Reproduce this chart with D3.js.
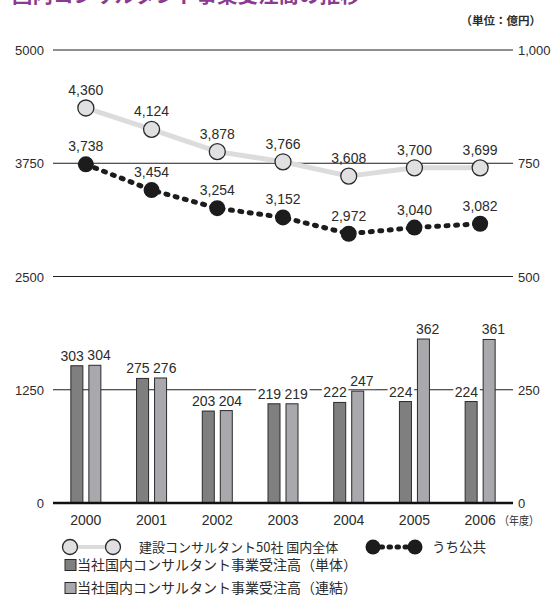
<!DOCTYPE html>
<html>
<head>
<meta charset="utf-8">
<script src="https://cdn.jsdelivr.net/npm/d3@7"></script>
<style>
  html, body { margin: 0; padding: 0; background: #fff; }
  svg { display: block; }
  text { font-family: "Liberation Sans", Arial, "Noto Sans CJK JP", sans-serif; }
  .cjk { font-family: "Noto Sans CJK JP", "Noto Sans CJK SC", sans-serif; }
</style>
</head>
<body>
<script>
// Fiscal years and series (億円)
const years = ["2000", "2001", "2002", "2003", "2004", "2005", "2006"];
const industryTotal = [4360, 4124, 3878, 3766, 3608, 3700, 3699];   // 建設コンサルタント50社 国内全体
const publicPortion = [3738, 3454, 3254, 3152, 2972, 3040, 3082];   // うち公共
const nonConsolidated = [303, 275, 203, 219, 222, 224, 224];        // 当社（単体）
const consolidated = [304, 276, 204, 219, 247, 362, 361];           // 当社（連結）
const leftTicks = [0, 1250, 2500, 3750, 5000];
const rightTicks = [0, 250, 500, 750, 1000];

const titleText = "国内コンサルタント事業受注高の推移";
const unitText = "（単位：億円）";
const yearUnitText = "（年度）";
const legendLabels = [
  "建設コンサルタント50社 国内全体",
  "うち公共",
  "当社国内コンサルタント事業受注高（単体）",
  "当社国内コンサルタント事業受注高（連結）"
];

const W = 558, H = 604;
const plot = { left: 53, right: 513, top: 50, bottom: 503 };
const colors = {
  title: "#8a3b91",
  text: "#2b2b2b",
  grid: "#1e1e1e",
  totalLine: "#dcdcdc",
  totalDot: "#e0e0e2",
  publicDot: "#1c1c1c",
  barDark: "#7f7f80",
  barLight: "#a9a9ad",
  barStroke: "#2a2a2a"
};

const svg = d3.select("body").append("svg").attr("width", W).attr("height", H);

const x = d3.scaleBand().domain(years).range([plot.left, plot.right]).paddingInner(0).paddingOuter(0);
const cx = d => x(d) + x.bandwidth() / 2;
const yL = d3.scaleLinear().domain([0, 5000]).range([plot.bottom, plot.top]);
const yR = d3.scaleLinear().domain([0, 1000]).range([plot.bottom, plot.top]);
const fmt = d3.format(",");

// Title (runs off the top edge) and unit note
svg.append("text").attr("class", "cjk")
  .attr("x", 12).attr("y", 3)
  .attr("font-size", 20.5).attr("font-weight", 700)
  .attr("fill", colors.title).text(titleText);
svg.append("text").attr("class", "cjk")
  .attr("x", 541).attr("y", 25).attr("text-anchor", "end")
  .attr("font-size", 11.5).attr("font-weight", 700)
  .attr("fill", colors.text).text(unitText);

// Horizontal gridlines (the zero line is drawn later as the heavy baseline)
svg.append("g").selectAll("line").data(leftTicks.filter(t => t > 0)).join("line")
  .attr("x1", plot.left).attr("x2", plot.right)
  .attr("y1", d => yL(d)).attr("y2", d => yL(d))
  .attr("stroke", colors.grid).attr("stroke-width", 1);

// Left axis labels
svg.append("g").selectAll("text").data(leftTicks).join("text")
  .attr("x", 44).attr("y", d => yL(d) + 5)
  .attr("text-anchor", "end").attr("font-size", 13)
  .attr("fill", colors.text).text(d => d);

// Right axis labels
svg.append("g").selectAll("text").data(rightTicks).join("text")
  .attr("x", 518).attr("y", d => yR(d) + 5)
  .attr("font-size", 13).attr("fill", colors.text).text(d => fmt(d));

// Bars
const barW = 12, barOff = 3;
const bars = svg.append("g");
years.forEach((yr, i) => {
  bars.append("rect")
    .attr("x", cx(yr) - barOff - barW).attr("y", yR(nonConsolidated[i]))
    .attr("width", barW).attr("height", yR(0) - yR(nonConsolidated[i]))
    .attr("fill", colors.barDark).attr("stroke", colors.barStroke).attr("stroke-width", 1);
  bars.append("rect")
    .attr("x", cx(yr) + barOff).attr("y", yR(consolidated[i]))
    .attr("width", barW).attr("height", yR(0) - yR(consolidated[i]))
    .attr("fill", colors.barLight).attr("stroke", colors.barStroke).attr("stroke-width", 1);
});

// Bar value labels on a white backing so they break the gridline
const barLabels = svg.append("g");
function labelWithBacking(g, px, py, txt, anchor) {
  const bg = g.append("rect").attr("fill", "#fff");
  const t = g.append("text").attr("x", px).attr("y", py)
    .attr("text-anchor", anchor).attr("font-size", 14)
    .attr("fill", colors.text).text(txt);
  const b = t.node().getBBox();
  bg.attr("x", b.x - 1.5).attr("y", b.y).attr("width", b.width + 3).attr("height", b.height);
}
years.forEach((yr, i) => {
  labelWithBacking(barLabels, cx(yr) - barOff + 1, yR(nonConsolidated[i]) - 5, nonConsolidated[i], "end");
  labelWithBacking(barLabels, cx(yr) + barOff - 1.5, yR(consolidated[i]) - 5, consolidated[i], "start");
});

// Heavy baseline
svg.append("line")
  .attr("x1", plot.left).attr("x2", plot.right)
  .attr("y1", yL(0)).attr("y2", yL(0))
  .attr("stroke", "#111").attr("stroke-width", 2.5);

// Year labels
svg.append("g").selectAll("text").data(years).join("text")
  .attr("x", d => cx(d)).attr("y", 525)
  .attr("text-anchor", "middle").attr("font-size", 14)
  .attr("fill", colors.text).text(d => d);
svg.append("text").attr("class", "cjk")
  .attr("x", 499).attr("y", 525).attr("font-size", 11.5)
  .attr("textLength", 40).attr("lengthAdjust", "spacingAndGlyphs")
  .attr("fill", colors.text).text(yearUnitText);

// Industry total line
const seriesLine = d3.line().x((d, i) => cx(years[i])).y(d => yL(d));
svg.append("path").datum(industryTotal)
  .attr("d", seriesLine).attr("fill", "none")
  .attr("stroke", colors.totalLine).attr("stroke-width", 5).attr("stroke-linejoin", "round");
svg.append("g").selectAll("circle").data(industryTotal).join("circle")
  .attr("cx", (d, i) => cx(years[i])).attr("cy", d => yL(d)).attr("r", 8)
  .attr("fill", colors.totalDot).attr("stroke", "#2a2a2a").attr("stroke-width", 1.3);
svg.append("g").selectAll("text").data(industryTotal).join("text")
  .attr("x", (d, i) => cx(years[i])).attr("y", d => yL(d) - 13)
  .attr("text-anchor", "middle").attr("font-size", 14)
  .attr("fill", colors.text).text(d => fmt(d));

// Public-sector portion: dotted line
svg.append("path").datum(publicPortion)
  .attr("d", seriesLine).attr("fill", "none")
  .attr("stroke", colors.publicDot).attr("stroke-width", 5)
  .attr("stroke-linecap", "round").attr("stroke-dasharray", "2 7.5");
svg.append("g").selectAll("circle").data(publicPortion).join("circle")
  .attr("cx", (d, i) => cx(years[i])).attr("cy", d => yL(d)).attr("r", 8)
  .attr("fill", colors.publicDot);
svg.append("g").selectAll("text").data(publicPortion).join("text")
  .attr("x", (d, i) => cx(years[i])).attr("y", d => yL(d) - 13)
  .attr("text-anchor", "middle").attr("font-size", 14)
  .attr("fill", colors.text).text(d => fmt(d));

// Legend
const lg = svg.append("g");
const ly1 = 547;
lg.append("line").attr("x1", 70).attr("x2", 113).attr("y1", ly1).attr("y2", ly1)
  .attr("stroke", colors.totalLine).attr("stroke-width", 4);
[70, 113].forEach(px => lg.append("circle").attr("cx", px).attr("cy", ly1).attr("r", 7.5)
  .attr("fill", colors.totalDot).attr("stroke", "#2a2a2a").attr("stroke-width", 1.3));
lg.append("text").attr("class", "cjk").attr("x", 139).attr("y", ly1 + 4.5)
  .attr("font-size", 13).attr("fill", colors.text).text(legendLabels[0]);

lg.append("line").attr("x1", 381).attr("x2", 410).attr("y1", ly1).attr("y2", ly1)
  .attr("stroke", colors.publicDot).attr("stroke-width", 5)
  .attr("stroke-linecap", "round").attr("stroke-dasharray", "1.5 6.5");
[373, 415].forEach(px => lg.append("circle").attr("cx", px).attr("cy", ly1).attr("r", 7.5)
  .attr("fill", colors.publicDot));
lg.append("text").attr("class", "cjk").attr("x", 432).attr("y", ly1 + 4.5)
  .attr("font-size", 13.5).attr("fill", colors.text).text(legendLabels[1]);

[[colors.barDark, 565, legendLabels[2]], [colors.barLight, 588, legendLabels[3]]].forEach(([c, yy, label]) => {
  lg.append("rect").attr("x", 65).attr("y", yy - 5.5).attr("width", 11).attr("height", 11)
    .attr("fill", c).attr("stroke", colors.barStroke).attr("stroke-width", 1);
  lg.append("text").attr("class", "cjk").attr("x", 77).attr("y", yy + 5)
    .attr("font-size", 14).attr("fill", colors.text).text(label);
});
</script>
</body>
</html>
